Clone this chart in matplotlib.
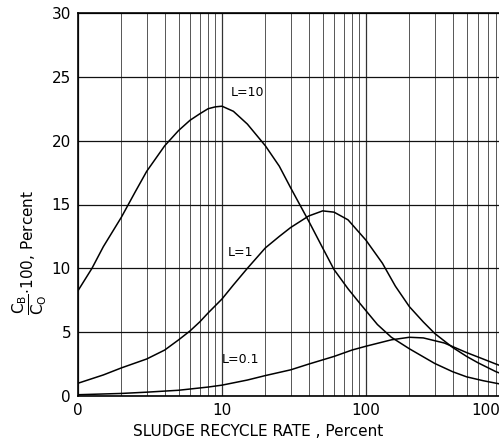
import matplotlib
matplotlib.use("Agg")
import matplotlib.pyplot as plt
import matplotlib.ticker as ticker

# Values (x = sludge recycle rate, percent; log axis)
L10_X = [1, 1.25, 1.5, 2, 2.5, 3, 4, 5, 6, 7, 8, 9, 10, 12, 15, 20, 25, 30, 40, 50, 60, 75,
         90, 120, 150, 200, 300, 400, 500, 650, 800, 1000]
L10_Y = [8.25, 10.0, 11.7, 14.0, 16.0, 17.6, 19.6, 20.8, 21.6, 22.1, 22.5, 22.65, 22.7, 22.3,
         21.3, 19.6, 18.0, 16.3, 13.7, 11.6, 9.9, 8.4, 7.3, 5.6, 4.6, 3.7, 2.55, 1.9, 1.5,
         1.2, 1.0, 0.8]
L1_X = [1, 1.5, 2, 3, 4, 5, 6, 7, 8, 10, 12, 15, 20, 25, 30, 40, 50, 60, 75, 100, 130, 160,
        200, 250, 300, 400, 500, 600, 800, 1000]
L1_Y = [1.0, 1.65, 2.2, 2.9, 3.6, 4.4, 5.1, 5.8, 6.5, 7.6, 8.7, 10.0, 11.6, 12.5, 13.2, 14.1,
        14.5, 14.4, 13.8, 12.2, 10.4, 8.6, 7.0, 5.8, 4.9, 3.8, 3.1, 2.6, 1.9, 1.5]
L01_X = [1, 2, 3, 5, 8, 10, 15, 20, 30, 40, 60, 80, 100, 150, 200, 250, 350, 500, 650, 800,
         1000]
L01_Y = [0.1, 0.2, 0.3, 0.45, 0.7, 0.85, 1.25, 1.6, 2.05, 2.5, 3.1, 3.6, 3.9, 4.4, 4.6, 4.55,
         4.15, 3.4, 2.9, 2.5, 2.1]
XTICKS = [1, 10, 100, 1000]
XTICKLABELS = ["0", "10", "100", "1000"]
YTICKS = [0, 5, 10, 15, 20, 25, 30]

plt.rcParams["font.family"] = ["DejaVu Sans"]
plt.rcParams["mathtext.default"] = "regular"

figure = plt.figure(figsize=(4.99, 4.43), dpi=100)
# right edge of the axes runs past the figure, as in the cropped scan
axes = figure.add_axes([78 / 499, 1 - 396 / 443, 432 / 499, 383 / 443])

axes.set_xscale("log")
axes.set_xlim(1, 1000)
axes.set_ylim(0, 30)
axes.set_xticks(XTICKS)
axes.set_xticklabels(XTICKLABELS)
axes.xaxis.set_minor_locator(ticker.LogLocator(base=10, subs=range(2, 10)))
axes.xaxis.set_minor_formatter(ticker.NullFormatter())
axes.set_yticks(YTICKS)
axes.tick_params(which="both", length=0, labelsize=11, pad=5)
axes.get_xticklabels()[-1].set_horizontalalignment("right")

axes.grid(True, which="major", axis="x", color="#333333", linewidth=0.9)
axes.grid(True, which="minor", axis="x", color="#555555", linewidth=0.7)
axes.grid(True, which="major", axis="y", color="#111111", linewidth=0.9)
axes.set_axisbelow(True)
for side in ("left", "top", "bottom"):
    axes.spines[side].set_linewidth(1.2)
axes.spines["right"].set_visible(False)

kwargs = {"color": "black", "linewidth": 1.1}
axes.plot(L10_X, L10_Y, **kwargs)
axes.plot(L1_X, L1_Y, **kwargs)
axes.plot(L01_X, L01_Y, **kwargs)

axes.text(11.5, 23.5, "L=10", fontsize=9)
axes.text(11.0, 11.0, "L=1", fontsize=9)
axes.text(10.0, 2.6, "L=0.1", fontsize=9)

figure.text(258 / 499, 1 - 432 / 443, "SLUDGE RECYCLE RATE , Percent", fontsize=11,
            ha="center", va="center")
figure.text(30 / 499, 1 - 252 / 443, r"$\dfrac{C_B}{C_O}$$\cdot$100, Percent", fontsize=11,
            rotation=90, ha="center", va="center")

figure.savefig("out.png", dpi=100)
